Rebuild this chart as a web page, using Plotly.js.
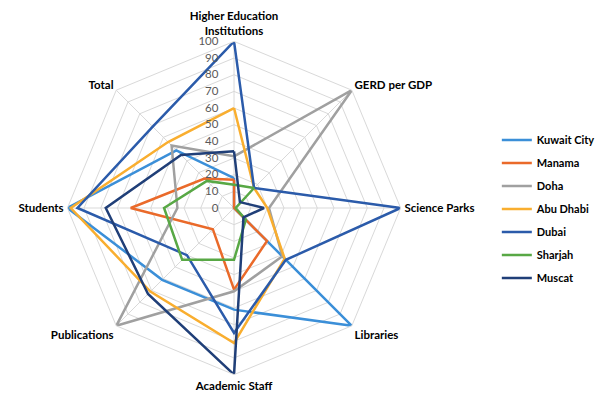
<!DOCTYPE html>
<html>
<head>
<meta charset="utf-8">
<script src="https://cdn.plot.ly/plotly-3.0.1.min.js"></script>
<style>html,body{margin:0;padding:0;background:#fff;}#chart{width:600px;height:396px;}</style>
</head>
<body>
<div id="chart"></div>
<script>
const categories = ["Higher Education<br>Institutions", "GERD per GDP", "Science Parks", "Libraries", "Academic Staff", "Publications", "Students", "Total"];
const seriesNames = ["Kuwait City", "Manama", "Doha", "Abu Dhabi", "Dubai", "Sharjah", "Muscat"];
const kuwaitCity = [18, 0, 0, 100, 61, 61, 100, 49];
const manama     = [17, 0, 0, 28, 49, 18, 62, 25];
const doha       = [31, 100, 21, 41, 50, 100, 34, 53];
const abuDhabi   = [60, 17, 20, 43, 81, 71, 98, 56];
const dubai      = [100, 17, 100, 44, 75, 40, 94, 69];
const sharjah    = [14, 17, 1, 10, 31, 44, 42, 23];
const muscat     = [34, 5, 18, 8, 100, 73, 77, 45];
const radialTicks = [0, 10, 20, 30, 40, 50, 60, 70, 80, 90, 100];

const seriesValues = [kuwaitCity, manama, doha, abuDhabi, dubai, sharjah, muscat];
const colors = ["#3B8FD8", "#EA6A2A", "#A0A0A0", "#F9AE2F", "#2B5BAA", "#58A845", "#203F78"];

const traces = seriesNames.map((name, i) => ({
  type: "scatterpolar",
  mode: "lines",
  name: name,
  legendgroup: "g" + i,
  r: seriesValues[i].concat(seriesValues[i][0]),
  theta: categories.concat(categories[0]),
  line: {color: colors[i], width: 2.5},
  hoverinfo: "skip"
}));

// radial labels are end-anchored just right of the axis; pad to move them left of it
const FS = "\u2007";
const tickLabels = radialTicks.map(v => String(v) + FS.repeat(2));

const cx = 236, cy = 188, R = 168;
const layout = {
  width: 600, height: 396,
  margin: {l: 0, r: 0, t: 0, b: 0},
  paper_bgcolor: "#fff",
  showlegend: true,
  font: {family: "Lato, 'Open Sans', sans-serif"},
  legend: {
    x: 0.835, y: 0.683, xanchor: "left", yanchor: "top",
    font: {size: 11, color: "#000", family: "Lato", weight: "bold"},
    tracegroupgap: 4,
    itemwidth: 30
  },
  polar: {
    domain: {x: [(cx - R) / 600, (cx + R) / 600], y: [(cy - R) / 396, (cy + R) / 396]},
    gridshape: "linear",
    bgcolor: "#fff",
    angularaxis: {
      type: "category",
      rotation: 90,
      direction: "clockwise",
      showline: true,
      linecolor: "#d9d9d9",
      linewidth: 1,
      gridcolor: "#d9d9d9",
      showgrid: true,
      ticks: "outside",
      ticklen: 1,
      tickcolor: "rgba(0,0,0,0)",
      tickfont: {size: 11.5, color: "#000", family: "Lato", weight: "bold"}
    },
    radialaxis: {
      range: [0, 100],
      tickvals: radialTicks,
      ticktext: tickLabels,
      angle: 90,
      tickangle: 90,
      side: "counterclockwise",
      showline: false,
      gridcolor: "#d9d9d9",
      ticks: "",
      tickfont: {size: 11.5, color: "#595959", family: "Lato"}
    }
  }
};

Plotly.newPlot("chart", traces, layout, {displayModeBar: false, staticPlot: true});
</script>
</body>
</html>
